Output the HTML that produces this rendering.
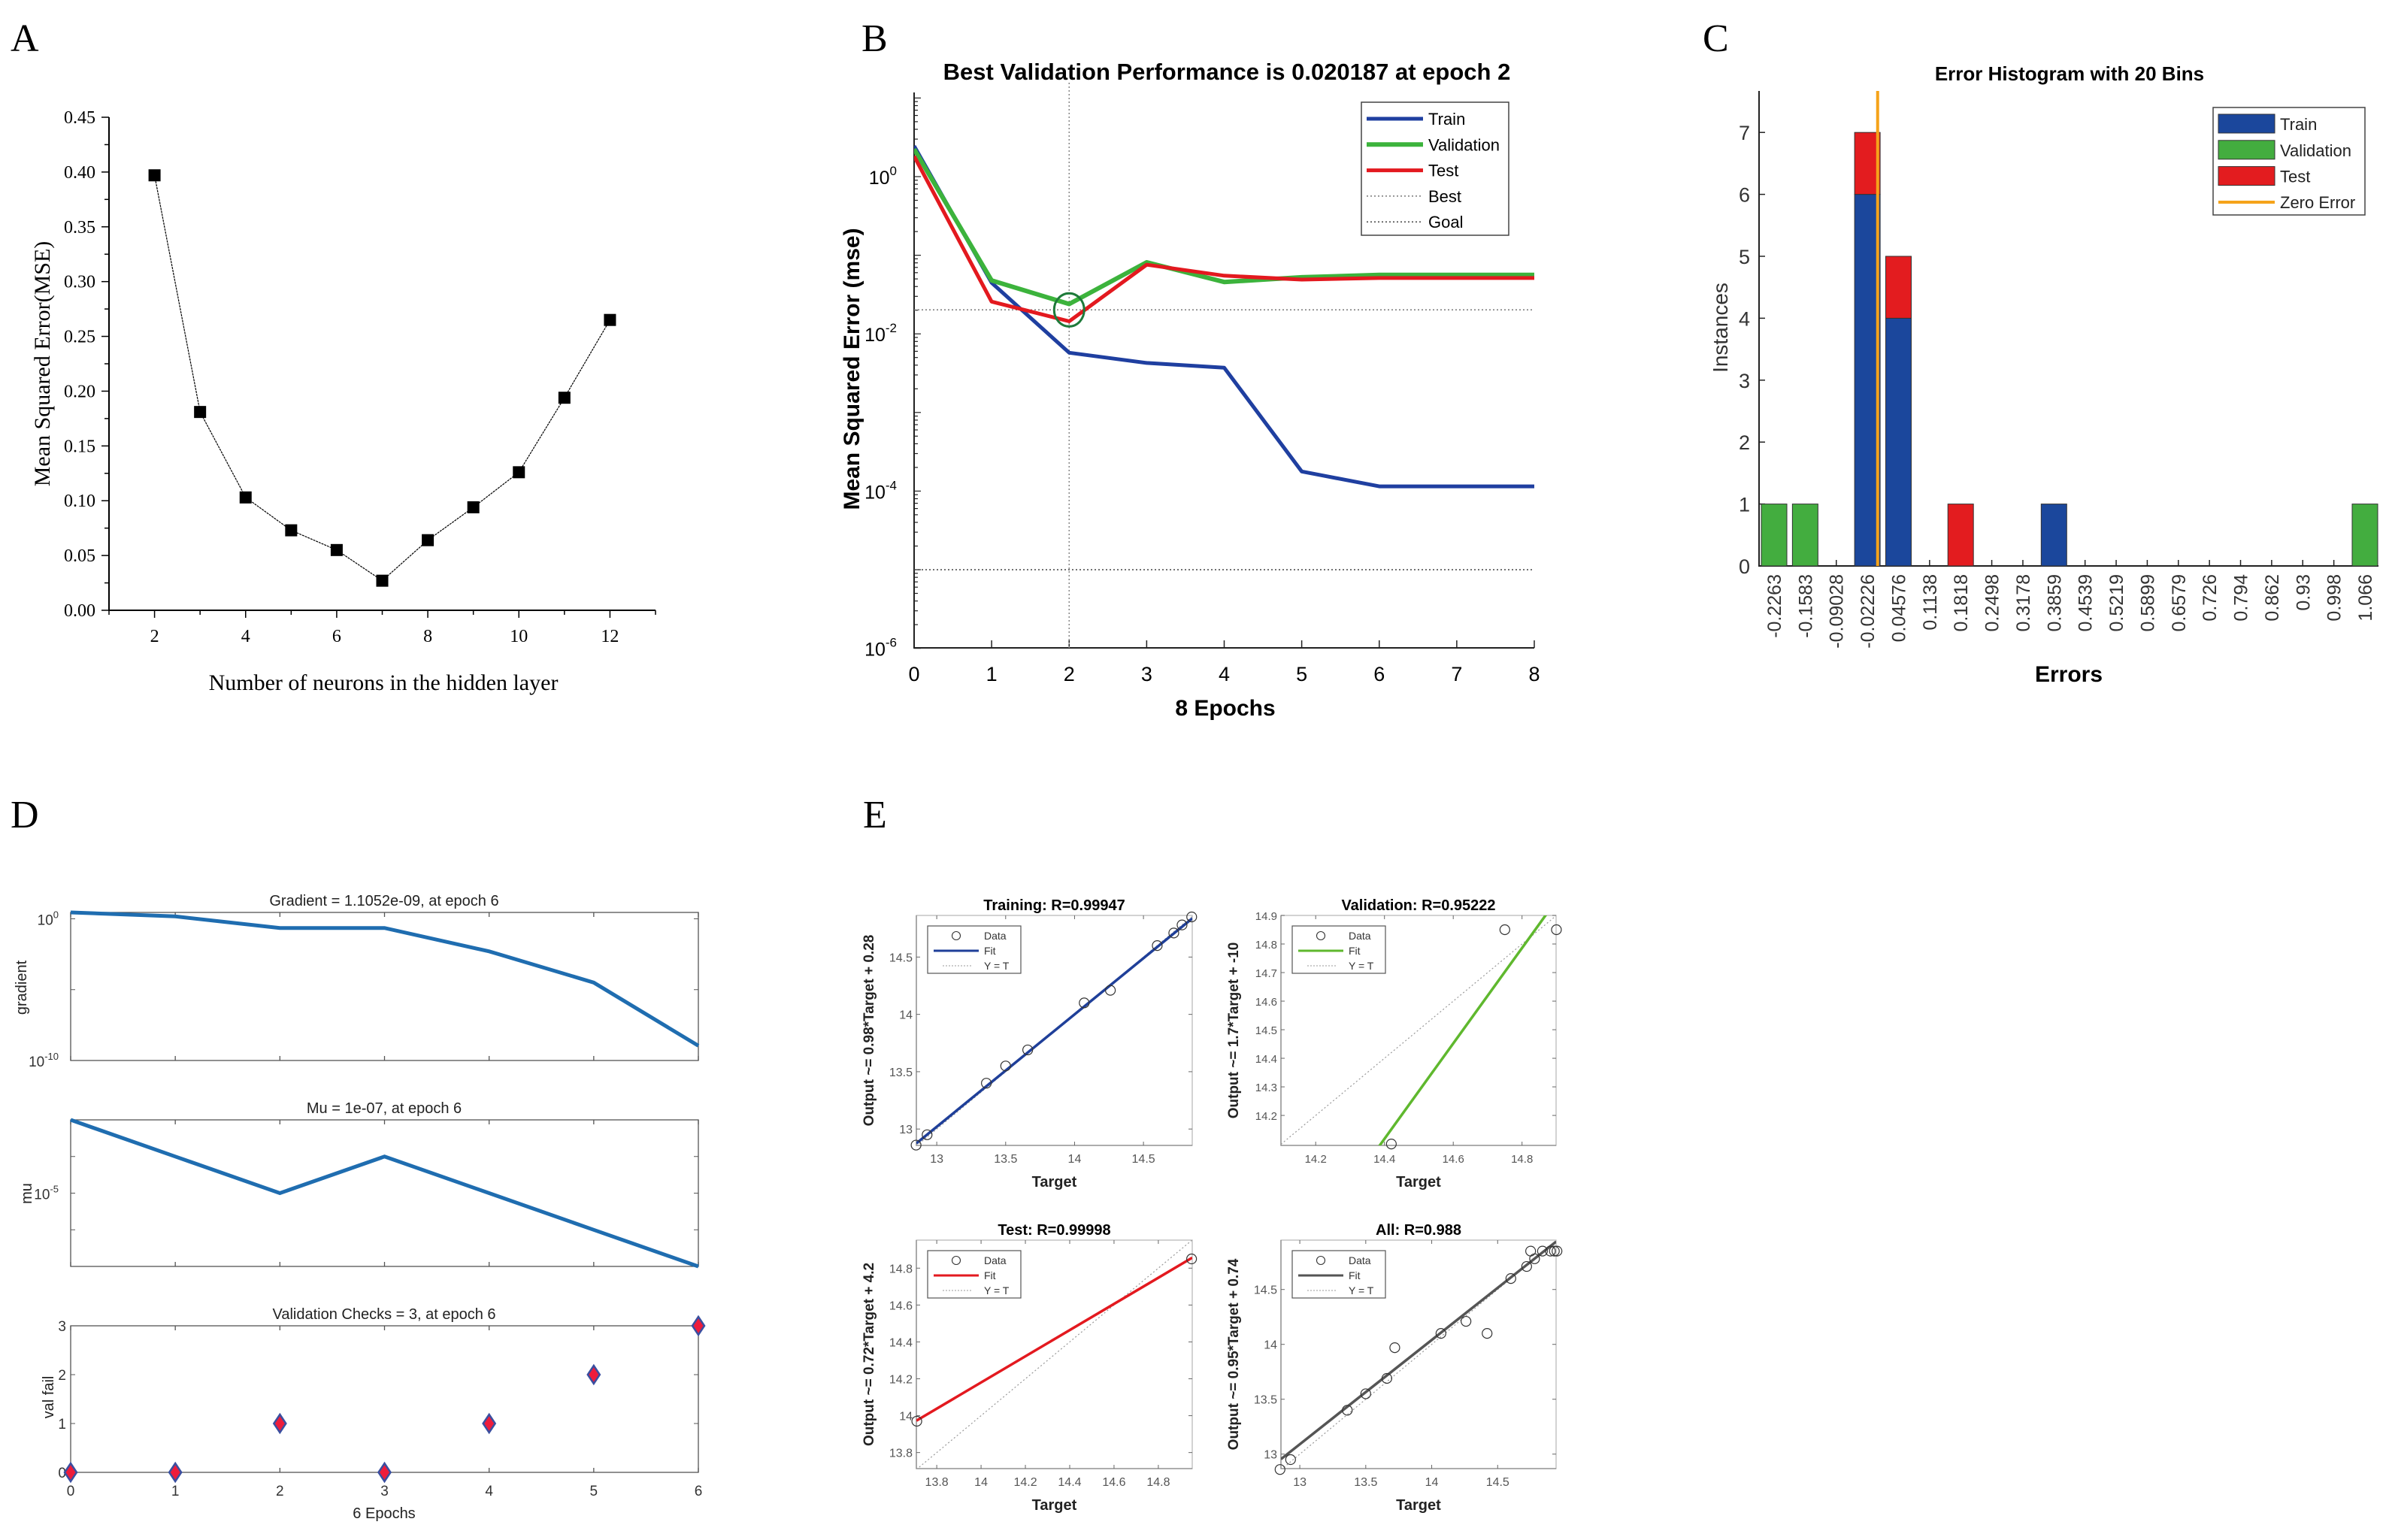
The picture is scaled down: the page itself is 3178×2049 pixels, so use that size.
<!DOCTYPE html>
<html><head><meta charset="utf-8"><style>
html,body{margin:0;padding:0;background:#fff;}
svg{display:block;}
text{font-family:"Liberation Sans",sans-serif;}
.serif{font-family:"Liberation Serif",serif;}
</style></head><body>
<svg id="fig" xmlns="http://www.w3.org/2000/svg" width="3178" height="2049" viewBox="0 0 3178 2049">
<rect x="0" y="0" width="3178" height="2049" fill="#fff"/>
<defs>
<clipPath id="cpB"><rect x="1216" y="110" width="826" height="752"/></clipPath>
<clipPath id="cpE0"><rect x="1219" y="1218" width="367" height="306"/></clipPath>
<clipPath id="cpE1"><rect x="1704" y="1218" width="366" height="306"/></clipPath>
<clipPath id="cpE2"><rect x="1219" y="1650" width="367" height="304"/></clipPath>
<clipPath id="cpE3"><rect x="1704" y="1650" width="366" height="304"/></clipPath>
</defs>
</svg>
<script>
// ---------- Panel A data ----------
const aNeurons = [2,3,4,5,6,7,8,9,10,11,12];
const aMSE = [0.397,0.181,0.103,0.073,0.055,0.027,0.064,0.094,0.126,0.194,0.265];
const aYTicks = ["0.00","0.05","0.10","0.15","0.20","0.25","0.30","0.35","0.40","0.45"];
const aXTicks = [2,4,6,8,10,12];
// ---------- Panel B data (log10 mse) ----------
const bEpochs = [0,1,2,3,4,5,6,7,8];
const bTrain = [0.39,-1.35,-2.24,-2.37,-2.43,-3.75,-3.94,-3.94,-3.94];
const bVal = [0.35,-1.32,-1.62,-1.09,-1.34,-1.28,-1.25,-1.25,-1.25];
const bTest = [0.26,-1.59,-1.84,-1.12,-1.26,-1.31,-1.29,-1.29,-1.29];
const bBest = 0.020187;
const bBestEpoch = 2;
const bGoal = 1e-5;
const bYTickExp = [0,-2,-4,-6];
// ---------- Panel C data ----------
const cBins = ["-0.2263","-0.1583","-0.09028","-0.02226","0.04576","0.1138","0.1818","0.2498","0.3178","0.3859","0.4539","0.5219","0.5899","0.6579","0.726","0.794","0.862","0.93","0.998","1.066"];
const cTrain = [0,0,0,6,4,0,0,0,0,1,0,0,0,0,0,0,0,0,0,0];
const cVal = [1,1,0,0,0,0,0,0,0,0,0,0,0,0,0,0,0,0,0,1];
const cTest = [0,0,0,1,1,0,1,0,0,0,0,0,0,0,0,0,0,0,0,0];
const cZeroPos = 3.33;
const cYTicks = [0,1,2,3,4,5,6,7];
// ---------- Panel D data ----------
const dEpochs = [0,1,2,3,4,5,6];
const dGradLog = [0.45,0.17,-0.65,-0.65,-2.3,-4.5,-8.96];
const dMuLog = [-3,-4,-5,-4,-5,-6,-7];
const dValFail = [0,0,1,0,1,2,3];
// ---------- Panel E data ----------
const eTrainT = [12.85,12.93,13.36,13.50,13.66,14.07,14.26,14.60,14.72,14.78,14.85];
const eTrainO = [12.86,12.95,13.40,13.55,13.69,14.10,14.21,14.60,14.71,14.78,14.85];
const eValT = [14.42,14.75,14.90];
const eValO = [14.10,14.85,14.85];
const eTestT = [13.71,14.95];
const eTestO = [13.97,14.85];
const eAllT = [12.85,12.93,13.36,13.50,13.66,13.72,14.07,14.26,14.42,14.60,14.72,14.75,14.78,14.84,14.90,14.93,14.95];
const eAllO = [12.86,12.95,13.40,13.55,13.69,13.97,14.10,14.21,14.10,14.60,14.71,14.85,14.78,14.85,14.85,14.85,14.85];
const eFitSlope = [0.98,1.67,0.71,0.95];
const eFitIntercept = [0.28,-9.93,4.24,0.74];

const NS="http://www.w3.org/2000/svg";
const svg=document.getElementById('fig');
function mk(tag,attrs,parent){const e=document.createElementNS(NS,tag);for(const k in attrs)e.setAttribute(k,attrs[k]);(parent||svg).appendChild(e);return e;}
function tx(s,attrs,parent){const e=mk('text',attrs,parent);e.textContent=s;return e;}
function pts(xs,ys,fx,fy){return xs.map((x,i)=>fx(x).toFixed(1)+','+fy(ys[i]).toFixed(1)).join(' ');}
let el;

// ================= Panel A =================
const gA=mk('g',{});


const aX=v=>145+(v-1)/12*(872-145);
const aY=v=>812-v/0.45*(812-156);
el=tx('A',{x:14,y:68,'font-size':52,class:'serif'},gA);


el=mk('path',{d:`M145,156 V812 H872`,fill:'none',stroke:'#000','stroke-width':2},gA);


for(let i=0;i<=18;i++){const v=i*0.025;const y=aY(v);mk('line',{x1:145,x2:i%2?139:135,y1:y,y2:y,stroke:'#000','stroke-width':1.5},gA);}
aYTicks.forEach(t=>{el=tx(t,{x:127,y:aY(+t)+8,'font-size':24,'text-anchor':'end',class:'serif'},gA);

});
for(let v=1;v<=13;v++){const x=aX(v);mk('line',{x1:x,x2:x,y1:812,y2:v%2?818:822,stroke:'#000','stroke-width':1.5},gA);}
aXTicks.forEach(t=>{el=tx(String(t),{x:aX(t),y:854,'font-size':24,'text-anchor':'middle',class:'serif'},gA);

});
el=tx('Mean Squared Error(MSE)',{x:0,y:0,'font-size':30,'text-anchor':'middle',class:'serif',transform:'translate(66,484) rotate(-90)'},gA);


el=tx('Number of neurons in the hidden layer',{x:510,y:918,'font-size':30,'text-anchor':'middle',class:'serif'},gA);


el=mk('polyline',{points:pts(aNeurons,aMSE,aX,aY),fill:'none',stroke:'#000','stroke-width':1.2,'stroke-dasharray':'3,1'},gA);


aNeurons.forEach((n,i)=>{el=mk('rect',{x:aX(n)-8,y:aY(aMSE[i])-8,width:16,height:16,fill:'#000'},gA);

});

// ================= Panel B =================
const gB=mk('g',{});


const bX=e=>1216+e/8*(2041-1216);
const bY=l=>235-l*104.6;
el=tx('B',{x:1146,y:68,'font-size':52,class:'serif'},gB);


el=tx('Best Validation Performance is 0.020187 at epoch 2',{x:1632,y:106,'font-size':31,'font-weight':'bold','text-anchor':'middle'},gB);


el=mk('path',{d:`M1216,123 V862 H2041`,fill:'none',stroke:'#222','stroke-width':2},gB);


for(let d=-6;d<=1;d++){for(let m=1;m<=9;m++){const l=d+Math.log10(m);if(l>1.07)continue;const y=bY(l);mk('line',{x1:1216,x2:1216+(m===1?9:5),y1:y,y2:y,stroke:'#222','stroke-width':1.2},gB);}}
bYTickExp.forEach(p=>{el=tx('10',{x:1193,y:bY(p)+10,'font-size':25,'text-anchor':'end'},gB);
mk('tspan',{dy:-12,'font-size':17},el).textContent=String(p);

});
bEpochs.forEach(e=>{const x=bX(e);mk('line',{x1:x,x2:x,y1:862,y2:852,stroke:'#222','stroke-width':1.5},gB);
el=tx(String(e),{x:x,y:906,'font-size':27,'text-anchor':'middle'},gB);

});
el=tx('8 Epochs',{x:1630,y:952,'font-size':30,'font-weight':'bold','text-anchor':'middle'},gB);


el=tx('Mean Squared Error (mse)',{x:0,y:0,'font-size':30,'font-weight':'bold','text-anchor':'middle',transform:'translate(1143,491) rotate(-90)'},gB);


const bClip=mk('g',{'clip-path':'url(#cpB)'},gB);
el=mk('line',{x1:bX(bBestEpoch),x2:bX(bBestEpoch),y1:110,y2:862,stroke:'#888','stroke-width':1.5,'stroke-dasharray':'2,3'},bClip);


el=mk('line',{x1:1216,x2:2041,y1:bY(Math.log10(bBest)),y2:bY(Math.log10(bBest)),stroke:'#777','stroke-width':1.5,'stroke-dasharray':'2,3'},bClip);


el=mk('line',{x1:1216,x2:2041,y1:bY(Math.log10(bGoal)),y2:bY(Math.log10(bGoal)),stroke:'#444','stroke-width':1.5,'stroke-dasharray':'2,3'},bClip);


el=mk('polyline',{points:pts(bEpochs,bTrain,bX,bY),fill:'none',stroke:'#1f3fa0','stroke-width':5,'stroke-linejoin':'round'},bClip);


el=mk('polyline',{points:pts(bEpochs,bVal,bX,bY),fill:'none',stroke:'#3cb33c','stroke-width':6,'stroke-linejoin':'round'},bClip);


el=mk('polyline',{points:pts(bEpochs,bTest,bX,bY),fill:'none',stroke:'#e3191f','stroke-width':5,'stroke-linejoin':'round'},bClip);


el=mk('ellipse',{cx:bX(bBestEpoch),cy:bY(Math.log10(bBest)),rx:20,ry:22,fill:'none',stroke:'#1e7a3a','stroke-width':3},gB);


const bLeg=mk('g',{},gB);


mk('rect',{x:1811,y:136,width:196,height:177,fill:'#fff',stroke:'#444','stroke-width':1.5},bLeg);
[['Train','#1f3fa0',5,''],['Validation','#3cb33c',6,''],['Test','#e3191f',5,''],['Best','#777',1.5,'2,3'],['Goal','#444',1.5,'2,3']].forEach((r,i)=>{const y=158+i*34.3;
mk('line',{x1:1818,x2:1893,y1:y,y2:y,stroke:r[1],'stroke-width':r[2],'stroke-dasharray':r[3]},bLeg);
el=tx(r[0],{x:1900,y:y+8,'font-size':22},bLeg);

});

// ================= Panel C =================
const gC=mk('g',{});


const cX=i=>2360+i*(3146-2360)/19;
const cY=v=>753-v*82.4;
el=tx('C',{x:2265,y:68,'font-size':52,class:'serif'},gC);


el=tx('Error Histogram with 20 Bins',{x:2753,y:107,'font-size':26,'font-weight':'bold','text-anchor':'middle'},gC);


el=mk('path',{d:`M2340,121 V753 H3164`,fill:'none',stroke:'#222','stroke-width':2},gC);


cYTicks.forEach(v=>{const y=cY(v);mk('line',{x1:2340,x2:2348,y1:y,y2:y,stroke:'#222','stroke-width':1.5},gC);
el=tx(String(v),{x:2328,y:y+10,'font-size':27,'text-anchor':'end',fill:'#333'},gC);

});
el=tx('Instances',{x:0,y:0,'font-size':28,'text-anchor':'middle',fill:'#333',transform:'translate(2298,436) rotate(-90)'},gC);


el=tx('Errors',{x:2752,y:907,'font-size':30,'font-weight':'bold','text-anchor':'middle'},gC);


cBins.forEach((b,i)=>{const x=cX(i);mk('line',{x1:x,x2:x,y1:753,y2:745,stroke:'#222','stroke-width':1.5},gC);
el=tx(b,{x:0,y:0,'font-size':25,'text-anchor':'end',fill:'#333',transform:`translate(${x+9},764) rotate(-90)`},gC);


let base=0;
[[cTrain,'#1b479c','train'],[cVal,'#43ad3f','validation'],[cTest,'#e31c1f','test']].forEach(s=>{const v=s[0][i];if(v>0){
el=mk('rect',{x:x-17,y:cY(base+v),width:34,height:cY(base)-cY(base+v),fill:s[1],stroke:'#333','stroke-width':1},gC);


base+=v;}});});
el=mk('line',{x1:cX(cZeroPos),x2:cX(cZeroPos),y1:121,y2:753,stroke:'#f5a31a','stroke-width':4},gC);


const cLeg=mk('g',{},gC);


mk('rect',{x:2944,y:143,width:202,height:143,fill:'#fff',stroke:'#444','stroke-width':1.5},cLeg);
[['Train','#1b479c'],['Validation','#43ad3f'],['Test','#e31c1f']].forEach((r,i)=>{const y=152+i*34.8;
mk('rect',{x:2951,y:y,width:75,height:25,fill:r[1],stroke:'#333','stroke-width':1},cLeg);
el=tx(r[0],{x:3033,y:y+21,'font-size':22,fill:'#222'},cLeg);

});
mk('line',{x1:2951,x2:3026,y1:269,y2:269,stroke:'#f5a31a','stroke-width':4},cLeg);
el=tx('Zero Error',{x:3033,y:277,'font-size':22,fill:'#222'},cLeg);



// ================= Panel D =================
const gD=mk('g',{});


const dX=e=>94+e/6*(929-94);
el=tx('D',{x:14,y:1101,'font-size':52,class:'serif'},gD);


function dBox(t,b,title,name){
 el=mk('rect',{x:94,y:t,width:835,height:b-t,fill:'none',stroke:'#555','stroke-width':1.3},gD);
 
 
 dEpochs.forEach(e=>{const x=dX(e);mk('line',{x1:x,x2:x,y1:b,y2:b-6,stroke:'#555','stroke-width':1.3},gD);mk('line',{x1:x,x2:x,y1:t,y2:t+6,stroke:'#555','stroke-width':1.3},gD);});
 el=tx(title,{x:511,y:t-9,'font-size':20,'text-anchor':'middle',fill:'#222'},gD);
 
 
}
const dY1=l=>1214+(0.45-l)/10.45*(1411-1214);
dBox(1214,1411,'Gradient = 1.1052e-09,  at epoch 6','d-gradient');
[0,-5,-10].forEach(p=>{const y=dY1(p);mk('line',{x1:94,x2:100,y1:y,y2:y,stroke:'#555'},gD);mk('line',{x1:929,x2:923,y1:y,y2:y,stroke:'#555'},gD);});
[0,-10].forEach(p=>{el=tx('10',{x:78,y:dY1(p)+8,'font-size':19,'text-anchor':'end',fill:'#333'},gD);
mk('tspan',{dy:-9,'font-size':13},el).textContent=String(p);

});
el=tx('gradient',{x:0,y:0,'font-size':20,'text-anchor':'middle',fill:'#222',transform:'translate(35,1314) rotate(-90)'},gD);


el=mk('polyline',{points:pts(dEpochs,dGradLog,dX,dY1),fill:'none',stroke:'#1f6db0','stroke-width':5},gD);


const dY2=l=>1490+(-3-l)/4*(1685-1490);
dBox(1490,1685,'Mu = 1e-07,  at epoch 6','d-mu');
[-4,-5,-6].forEach(p=>{const y=dY2(p);mk('line',{x1:94,x2:100,y1:y,y2:y,stroke:'#555'},gD);mk('line',{x1:929,x2:923,y1:y,y2:y,stroke:'#555'},gD);});
el=tx('10',{x:78,y:dY2(-5)+8,'font-size':19,'text-anchor':'end',fill:'#333'},gD);
mk('tspan',{dy:-9,'font-size':13},el).textContent='-5';


el=tx('mu',{x:0,y:0,'font-size':20,'text-anchor':'middle',fill:'#222',transform:'translate(42,1588) rotate(-90)'},gD);


el=mk('polyline',{points:pts(dEpochs,dMuLog,dX,dY2),fill:'none',stroke:'#1f6db0','stroke-width':5},gD);


const dY3=v=>1959-v/3*(1959-1764);
dBox(1764,1959,'Validation Checks = 3,  at epoch 6','d-valfail');
[0,1,2,3].forEach(v=>{const y=dY3(v);mk('line',{x1:94,x2:100,y1:y,y2:y,stroke:'#555'},gD);mk('line',{x1:929,x2:923,y1:y,y2:y,stroke:'#555'},gD);
el=tx(String(v),{x:88,y:y+7,'font-size':19,'text-anchor':'end',fill:'#333'},gD);

});
el=tx('val fail',{x:0,y:0,'font-size':20,'text-anchor':'middle',fill:'#222',transform:'translate(71,1859) rotate(-90)'},gD);


dEpochs.forEach((e,i)=>{const x=dX(e),y=dY3(dValFail[i]);
el=mk('path',{d:`M${x},${y-12} L${x+8},${y} L${x},${y+12} L${x-8},${y} Z`,fill:'#ee1c3b',stroke:'#3a4fa0','stroke-width':2.5},gD);


el=tx(String(e),{x:x,y:1990,'font-size':19,'text-anchor':'middle',fill:'#333'},gD);

});
el=tx('6  Epochs',{x:511,y:2020,'font-size':20,'text-anchor':'middle',fill:'#222'},gD);



// ================= Panel E =================
const gE=mk('g',{});


el=tx('E',{x:1148,y:1101,'font-size':52,class:'serif'},gE);


const eCfg=[
 {l:1219,t:1218,r:1586,b:1524,xl:[12.852,14.854],yl:[12.857,14.863],xt:[13,13.5,14,14.5],yt:[13,13.5,14,14.5],T:eTrainT,O:eTrainO,c:'#1f3f99',title:'Training: R=0.99947',yl2:'Output ~= 0.98*Target + 0.28',name:'training'},
 {l:1704,t:1218,r:2070,b:1524,xl:[14.099,14.899],yl:[14.095,14.9],xt:[14.2,14.4,14.6,14.8],yt:[14.2,14.3,14.4,14.5,14.6,14.7,14.8,14.9],T:eValT,O:eValO,c:'#5fb82e',title:'Validation: R=0.95222',yl2:'Output ~= 1.7*Target + -10',name:'validation'},
 {l:1219,t:1650,r:1586,b:1954,xl:[13.708,14.953],yl:[13.713,14.952],xt:[13.8,14,14.2,14.4,14.6,14.8],yt:[13.8,14,14.2,14.4,14.6,14.8],T:eTestT,O:eTestO,c:'#e3191f',title:'Test: R=0.99998',yl2:'Output ~= 0.72*Target + 4.2',name:'test'},
 {l:1704,t:1650,r:2070,b:1954,xl:[12.857,14.943],yl:[12.868,14.95],xt:[13,13.5,14,14.5],yt:[13,13.5,14,14.5],T:eAllT,O:eAllO,c:'#555',title:'All: R=0.988',yl2:'Output ~= 0.95*Target + 0.74',name:'all'}
];
eCfg.forEach((c,k)=>{
 const g=mk('g',{},gE);
 
 
 const fx=v=>c.l+(v-c.xl[0])/(c.xl[1]-c.xl[0])*(c.r-c.l);
 const fy=v=>c.b-(v-c.yl[0])/(c.yl[1]-c.yl[0])*(c.b-c.t);
 el=mk('rect',{x:c.l,y:c.t,width:c.r-c.l,height:c.b-c.t,fill:'none',stroke:'#bbb','stroke-width':1.3},g);
 
 
 mk('path',{d:`M${c.l},${c.t} V${c.b} H${c.r}`,fill:'none',stroke:'#888','stroke-width':1.3},g);
 const fs=(c.name==='validation')?15:16;
 c.xt.forEach(v=>{const x=fx(v);mk('line',{x1:x,x2:x,y1:c.b,y2:c.b-5,stroke:'#666'},g);mk('line',{x1:x,x2:x,y1:c.t,y2:c.t+5,stroke:'#666'},g);
  el=tx(String(v),{x:x,y:c.b+23,'font-size':fs,'text-anchor':'middle',fill:'#555'},g);
  
  });
 c.yt.forEach(v=>{const y=fy(v);mk('line',{x1:c.l,x2:c.l+5,y1:y,y2:y,stroke:'#666'},g);mk('line',{x1:c.r,x2:c.r-5,y1:y,y2:y,stroke:'#666'},g);
  el=tx(String(v),{x:c.l-5,y:y+6,'font-size':fs,'text-anchor':'end',fill:'#555'},g);
  
  });
 el=tx(c.title,{x:(c.l+c.r)/2,y:c.t-7,'font-size':20,'font-weight':'bold','text-anchor':'middle'},g);
 
 
 el=tx('Target',{x:(c.l+c.r)/2,y:c.b+55,'font-size':20,'font-weight':'bold','text-anchor':'middle',fill:'#222'},g);
 
 
 el=tx(c.yl2,{x:0,y:0,'font-size':19,'font-weight':'bold','text-anchor':'middle',fill:'#222',transform:`translate(${c.l-57},${(c.t+c.b)/2}) rotate(-90)`},g);
 
 
 const cg=mk('g',{'clip-path':`url(#cpE${k})`},g);
 el=mk('line',{x1:fx(c.xl[0]),y1:fy(c.xl[0]),x2:fx(c.xl[1]),y2:fy(c.xl[1]),stroke:'#999','stroke-width':1.2,'stroke-dasharray':'2,3'},cg);
 
 
 el=mk('line',{x1:fx(c.xl[0]),y1:fy(eFitSlope[k]*c.xl[0]+eFitIntercept[k]),x2:fx(c.xl[1]),y2:fy(eFitSlope[k]*c.xl[1]+eFitIntercept[k]),stroke:c.c,'stroke-width':3.5},cg);
 
 
 c.T.forEach((v,i)=>{el=mk('circle',{cx:fx(v),cy:fy(c.O[i]),r:6.5,fill:'none',stroke:'#333','stroke-width':1.2},g);
  
  });
 const lg=mk('g',{},g);
 
 
 const lx=c.l+15,ly=c.t+14;
 mk('rect',{x:lx,y:ly,width:124,height:63,fill:'#fff',stroke:'#555','stroke-width':1.2},lg);
 mk('circle',{cx:lx+38,cy:ly+13,r:5.5,fill:'none',stroke:'#333','stroke-width':1.1},lg);
 mk('line',{x1:lx+8,x2:lx+68,y1:ly+33,y2:ly+33,stroke:c.c,'stroke-width':3},lg);
 mk('line',{x1:lx+20,x2:lx+60,y1:ly+53,y2:ly+53,stroke:'#999','stroke-width':1,'stroke-dasharray':'2,2'},lg);
 [['Data',ly+18],['Fit',ly+38],['Y = T',ly+58]].forEach(r=>{el=tx(r[0],{x:lx+75,y:r[1],'font-size':14,fill:'#333'},lg);
  
  });
});
</script>
</body></html>
